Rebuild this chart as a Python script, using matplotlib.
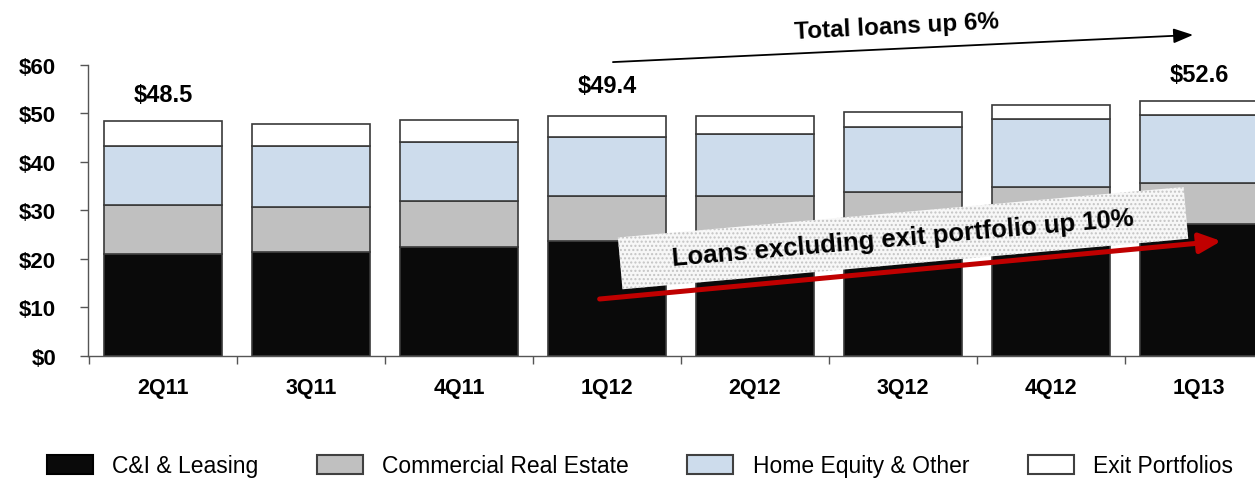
import numpy as np
import matplotlib
matplotlib.use("Agg")
import matplotlib.pyplot as plt
from matplotlib.patches import Patch, Rectangle
from matplotlib.transforms import Affine2D, ScaledTranslation

# $ billions
quarters = ["2Q11", "3Q11", "4Q11", "1Q12", "2Q12", "3Q12", "4Q12", "1Q13"]
ci_leasing = [21.0, 21.5, 22.5, 23.8, 24.5, 25.3, 26.2, 27.3]
commercial_re = [10.2, 9.3, 9.5, 9.1, 8.4, 8.5, 8.6, 8.4]
home_equity = [12.1, 12.5, 12.1, 12.3, 12.8, 13.4, 14.0, 13.9]
exit_portfolios = [5.2, 4.6, 4.6, 4.2, 3.7, 3.2, 3.0, 3.0]

series_names = ["C&I & Leasing", "Commercial Real Estate", "Home Equity & Other", "Exit Portfolios"]
series_colors = ["#0a0a0a", "#c0c0c0", "#cddcec", "#ffffff"]
total_labels = {0: "$48.5", 3: "$49.4", 7: "$52.6"}

FONT = "Liberation Sans"


# -----------------------------------------------
def main():
    fig = plt.figure(figsize=(12.55, 4.81), dpi=100)
    ax = fig.add_axes([0.0701, 0.2578, 0.9299, 0.605])

    x = np.arange(len(quarters))
    bottom = np.zeros(len(quarters))
    for vals, color in zip([ci_leasing, commercial_re, home_equity, exit_portfolios], series_colors):
        ax.bar(x, vals, width=0.8, bottom=bottom, color=color,
               edgecolor="#3a3a3a", linewidth=1.2, zorder=2)
        bottom += np.array(vals)

    # y axis
    ax.set_yticks(range(0, 61, 10))
    ax.set_yticklabels(["$%d" % v for v in range(0, 61, 10)],
                       fontsize=16, fontweight="bold", fontfamily=FONT)
    ax.tick_params(axis="y", length=6, width=1, pad=17, color="#555555")

    # x axis: labels centred, tick marks between categories
    ax.set_xticks(x)
    ax.set_xticklabels(quarters, fontsize=15.5, fontweight="bold", fontfamily=FONT)
    ax.tick_params(axis="x", which="major", length=0, pad=15)
    ax.set_xticks(np.arange(-0.5, len(quarters), 1), minor=True)
    ax.tick_params(axis="x", which="minor", length=6, width=1, color="#555555")

    # limits after ticks, set_xticks would widen them
    ax.set_ylim(0, 60)
    ax.set_xlim(-0.507, 7.378)

    for side in ["top", "right"]:
        ax.spines[side].set_visible(False)
    for side in ["left", "bottom"]:
        ax.spines[side].set_color("#555555")
        ax.spines[side].set_linewidth(1)

    # total labels
    offsets = {0: 5.5, 3: 6.4, 7: 5.5}
    for idx, label in total_labels.items():
        ax.text(x[idx], bottom[idx] + offsets[idx], label, ha="center", va="center",
                fontsize=17, fontweight="bold", fontfamily=FONT, clip_on=False)

    # total loans arrow
    ax.annotate("", xy=(6.96, 66.2), xytext=(3.04, 60.6), annotation_clip=False,
                arrowprops=dict(arrowstyle="-|>,head_length=0.85,head_width=0.32",
                                color="black", lw=1.3, mutation_scale=14,
                                shrinkA=0, shrinkB=0))
    ax.text(4.96, 68.0, "Total loans up 6%", ha="center", va="center", rotation=3,
            fontsize=17.5, fontweight="bold", fontfamily=FONT, clip_on=False)

    # banner for loans excluding exit portfolio
    banner_tr = Affine2D().rotate_deg(5.1) + ScaledTranslation(5.0, 24.3, ax.transData)
    banner = Rectangle((-284, -26), 568, 52, facecolor="#f7f7f7", edgecolor="#c4c4c4",
                       hatch="....", linewidth=0, transform=banner_tr, zorder=4)
    ax.add_artist(banner)
    ax.text(5.0, 24.3, "Loans excluding exit portfolio up 10%", ha="center", va="center",
            rotation=5.0, rotation_mode="anchor", fontsize=18.5, fontweight="bold",
            fontfamily=FONT, zorder=6)

    ax.annotate("", xy=(7.15, 23.7), xytext=(2.95, 11.75), annotation_clip=False, zorder=7,
                arrowprops=dict(arrowstyle="-|>,head_length=0.65,head_width=0.3",
                                color="#c00000", lw=3.6, mutation_scale=20,
                                shrinkA=0, shrinkB=0))

    # legend
    handles = [Patch(facecolor=c, edgecolor="#000000" if i == 0 else "#404040", linewidth=1.5)
               for i, c in enumerate(series_colors)]
    fig.legend(handles, series_names, loc="center", bbox_to_anchor=(640 / 1255, 14 / 481),
               ncol=4, frameon=False, prop={"family": FONT, "size": 16.5},
               handlelength=2.0, handleheight=0.86, handletextpad=0.85, columnspacing=2.55)

    fig.savefig("out.png", dpi=100)


if __name__ == "__main__":
    main()
